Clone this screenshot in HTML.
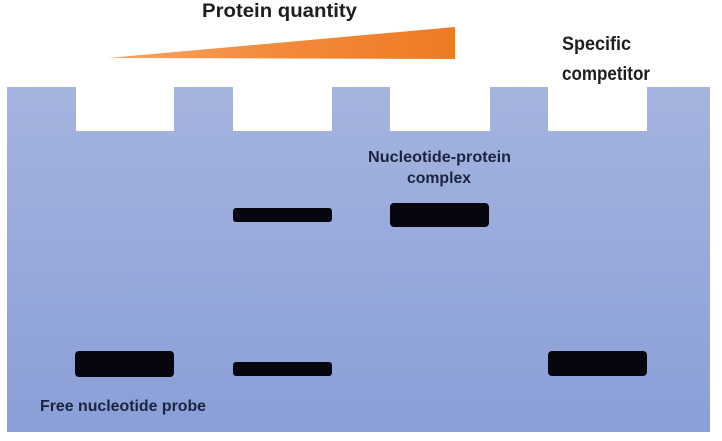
<!DOCTYPE html>
<html>
<head>
<meta charset="utf-8">
<style>
  html, body { margin: 0; padding: 0; background: #ffffff; }
  body { width: 722px; height: 441px; overflow: hidden; }
  svg { display: block; }
  text { font-family: "Liberation Sans", Arial, sans-serif; font-weight: bold; }
</style>
</head>
<body>
<svg width="722" height="441" viewBox="0 0 722 441" xmlns="http://www.w3.org/2000/svg">
  <defs>
    <linearGradient id="gel" x1="0" y1="0" x2="0" y2="1">
      <stop offset="0" stop-color="#a5b4de"/>
      <stop offset="1" stop-color="#8a9fd8"/>
    </linearGradient>
    <linearGradient id="tri" x1="0" y1="0" x2="1" y2="0">
      <stop offset="0" stop-color="#f5a565"/>
      <stop offset="0.5" stop-color="#f28a3a"/>
      <stop offset="1" stop-color="#ef7a24"/>
    </linearGradient>
  </defs>

  <!-- Gel with wells -->
  <path d="M7,87 L76,87 L76,131 L174,131 L174,87 L233,87 L233,131 L332,131 L332,87 L390,87 L390,131 L490,131 L490,87 L548,87 L548,131 L647,131 L647,87 L710,87 L710,432 L7,432 Z" fill="url(#gel)"/>

  <!-- Protein quantity triangle -->
  <polygon points="108,58 455,27 455,59" fill="url(#tri)"/>

  <!-- Bands -->
  <rect x="75" y="351" width="99" height="26" rx="4" fill="#06060e"/>
  <rect x="233" y="208" width="99" height="14" rx="3" fill="#06060e"/>
  <rect x="233" y="362" width="99" height="14" rx="3" fill="#06060e"/>
  <rect x="390" y="203" width="99" height="24" rx="4" fill="#06060e"/>
  <rect x="548" y="351" width="99" height="25" rx="4" fill="#06060e"/>

  <!-- Labels -->
  <text x="202" y="17" font-size="19" fill="#1e1e1e" textLength="155" lengthAdjust="spacingAndGlyphs">Protein quantity</text>
  <text x="562" y="50" font-size="19" fill="#1e1e1e" textLength="69" lengthAdjust="spacingAndGlyphs">Specific</text>
  <text x="562" y="80" font-size="19" fill="#1e1e1e" textLength="88" lengthAdjust="spacingAndGlyphs">competitor</text>

  <text x="368" y="162" font-size="16" fill="#1c2340" textLength="143" lengthAdjust="spacingAndGlyphs">Nucleotide-protein</text>
  <text x="407" y="183" font-size="16" fill="#1c2340" textLength="64" lengthAdjust="spacingAndGlyphs">complex</text>

  <text x="40" y="411" font-size="16" fill="#1c2340" textLength="166" lengthAdjust="spacingAndGlyphs">Free nucleotide probe</text>
</svg>
</body>
</html>
